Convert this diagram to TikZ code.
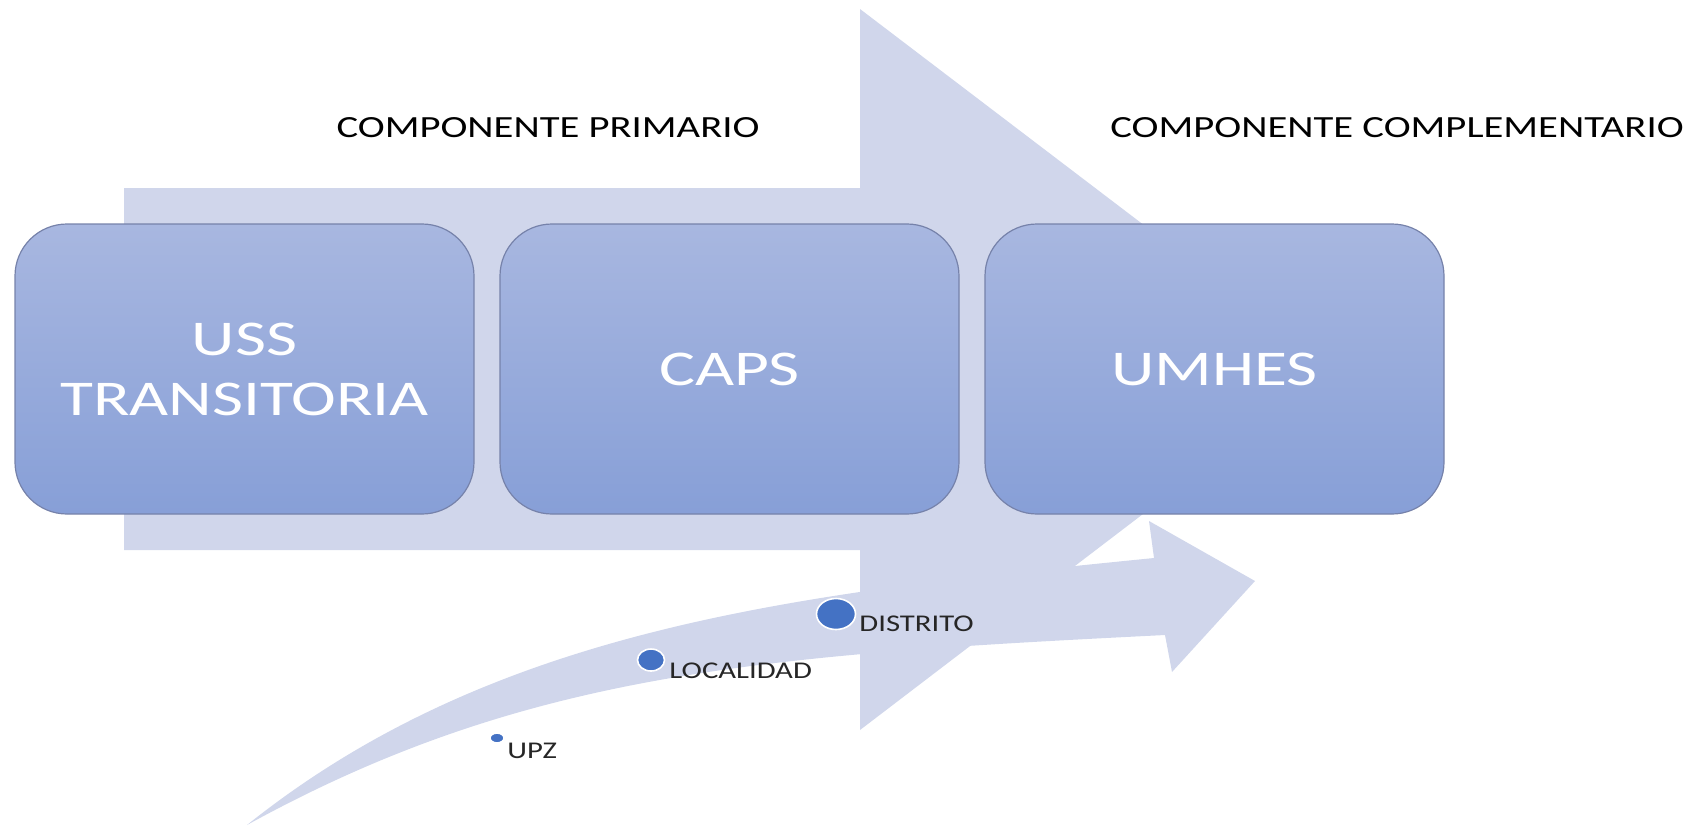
\documentclass[tikz,border=0pt]{standalone}
\usepackage{fontspec}
\setmainfont{Carlito}[FakeStretch=1.28]
\newfontfamily\boxfont{Carlito}[FakeStretch=1.35]
\newfontfamily\compfont{Carlito}[FakeStretch=1.32]
\usetikzlibrary{shapes.geometric}
\definecolor{arrowfill}{RGB}{208,214,235}
\definecolor{boxtop}{RGB}{168,183,224}
\definecolor{boxbot}{RGB}{135,159,215}
\definecolor{boxline}{RGB}{118,130,170}
\definecolor{dotblue}{RGB}{68,114,196}
\begin{document}
\begin{tikzpicture}[x=0.5pt,y=-0.5pt,
  stagebox/.style={draw=boxline, line width=0.6pt, rounded corners=26pt,
    top color=boxtop, bottom color=boxbot, minimum width=229.5pt,
    minimum height=145pt, inner sep=0pt, text=white,
    font=\boxfont\fontsize{25}{30}\selectfont, align=center},
  dotnode/.style={ellipse, fill=dotblue, draw=white, line width=0.8pt, inner sep=0pt},
  lvl/.style={font=\fontsize{12}{14}\selectfont, text=black!85, inner sep=0pt, anchor=base west},
  comp/.style={font=\compfont\fontsize{15.4}{18}\selectfont, text=black, inner sep=0pt, anchor=base}]
\useasboundingbox (0,0) rectangle (1687,826);
% main arrow
\fill[arrowfill] (124,188) -- (860,188) -- (860,9) -- (1333,369) -- (860,730) -- (860,550) -- (124,550) -- cycle;
% curved arrow
\fill[arrowfill] (247,825) .. controls (497,625) and (804,593) .. (1154,558)
  -- (1149,521) -- (1255,581) -- (1172,672) -- (1165,635)
  .. controls (765,655) and (527,671) .. (247,825) -- cycle;
% stage boxes
\node[stagebox] (uss) at (244.5,369) {USS\\TRANSITORIA};
\node[stagebox] (caps) at (729.5,369) {CAPS};
\node[stagebox] (umhes) at (1214.5,369) {UMHES};
% component labels
\node[comp] (prim) at (548,137) {COMPONENTE PRIMARIO};
\node[comp] (compl) at (1397,137) {COMPONENTE COMPLEMENTARIO};
% level dots
\node[dotnode, minimum width=19.5pt, minimum height=15.5pt] (dist) at (836,614) {};
\node[dotnode, minimum width=13.5pt, minimum height=11pt] (loc) at (651,660) {};
\node[dotnode, minimum width=7pt, minimum height=5pt] (upz) at (497,738) {};
\node[lvl] (distl) at (859,631) {DISTRITO};
\node[lvl] (locl) at (669,678) {LOCALIDAD};
\node[lvl] (upzl) at (507,758) {UPZ};
\end{tikzpicture}
\end{document}
